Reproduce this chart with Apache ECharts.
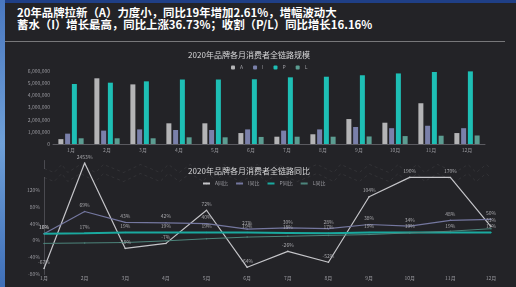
<!DOCTYPE html>
<html>
<head>
<meta charset="utf-8">
<script src="https://cdn.jsdelivr.net/npm/echarts@6.0.0/dist/echarts.min.js"></script>
<style>
  html, body { margin: 0; padding: 0; background: #232327; }
  #page { position: relative; width: 516px; height: 287px; overflow: hidden; background: #232327; }
  #strip { position: absolute; left: 0; top: 0; width: 5px; height: 287px; background: linear-gradient(#4a78c0, #6fa0d8, #3f6fb8); }
  #topbar { position: absolute; left: 5px; top: 0; width: 511px; height: 3px; background: #1f3f86; }
  #head { position: absolute; left: 17px; top: 6px; color: #fff; font: bold 11.4px "Noto Sans CJK SC", sans-serif; line-height: 12px; white-space: nowrap; }
  #rule { position: absolute; left: 5px; top: 41px; width: 500px; height: 1px; background: #77777a; }
  #chart { position: absolute; left: 0; top: 0; width: 516px; height: 287px; }
</style>
</head>
<body>
<div id="page">
  <div id="strip"></div>
  <div id="topbar"></div>
  <div id="head">20年品牌拉新（A）力度小，同比19年增加2.61%，增幅波动大<br>蓄水（I）增长最高，同比上涨36.73%；收割（P/L）同比增长16.16%</div>
  <div id="rule"></div>
  <div id="chart"></div>
</div>
<script>
// 月份
var months = ["1月", "2月", "3月", "4月", "5月", "6月", "7月", "8月", "9月", "10月", "11月", "12月"];
// 全链路规模 (人数)
var scaleA = [400000, 5400000, 4900000, 1700000, 1700000, 900000, 600000, 800000, 2050000, 1750000, 3350000, 900000];
var scaleI = [850000, 1100000, 1200000, 1150000, 1150000, 1200000, 1100000, 1200000, 1400000, 1300000, 1500000, 1300000];
var scaleP = [4930000, 5040000, 5150000, 5300000, 5300000, 5320000, 5480000, 5530000, 5650000, 5800000, 5920000, 5970000];
var scaleL = [470000, 470000, 470000, 550000, 550000, 580000, 600000, 600000, 620000, 650000, 680000, 700000];
// 全链路同比 (%)
var yoyA = [-67, 2453, -19, -7, 72, -64, -26, -52, 104, 190, 170, 33];
var yoyI = [16, 69, 43, 42, 40, 27, 30, 28, 38, 34, 48, 50];
var yoyP = [16, 17, 19, 19, 19, 19, 18, 17, 19, 19, 19, 19];
var yoyL = [-7, -6, -5, -1, 4, 8, 10, 12, 14, 18, 22, 28];

var font = '"Noto Sans CJK SC", sans-serif';
var colA = "#b4b4b6", colI = "#7a80aa", colP = "#1ebfb5", colL = "#5c9d92";

function barSeries(name, data, color) {
  return {
    name: name, type: "bar", xAxisIndex: 0, yAxisIndex: 0,
    data: data, barWidth: 5, barGap: "35%",
    itemStyle: { color: color }
  };
}
function lineSeries(name, data, color, width, showLabel) {
  return {
    name: name, type: "line", xAxisIndex: 1, yAxisIndex: 1,
    data: data, showSymbol: true, symbol: "circle", symbolSize: 1.5,
    lineStyle: { color: color, width: width }, itemStyle: { color: color },
    label: { show: showLabel, position: "top", distance: 3, fontSize: 5, color: "#a8a8ac", fontFamily: font, formatter: "{c}%" }
  };
}

var chart = echarts.init(document.getElementById("chart"));
var option = {
  backgroundColor: "transparent",
  animation: false,
  textStyle: { fontFamily: font },
  title: [
    { text: "2020年品牌各月消费者全链路规模", left: 244, top: 46, textAlign: "center",
      textStyle: { color: "#d8d8da", fontSize: 8, fontWeight: "normal", fontFamily: font } },
    { text: "2020年品牌各月消费者全链路同比", left: 244, top: 162, textAlign: "center",
      textStyle: { color: "#d8d8da", fontSize: 8, fontWeight: "normal", fontFamily: font } }
  ],
  legend: [
    { data: ["A", "I", "P", "L"], left: 226, top: 60, itemWidth: 4, itemHeight: 4, itemGap: 10, icon: "roundRect",
      textStyle: { color: "#9a9aa0", fontSize: 5 } },
    { data: ["A同比", "I同比", "P同比", "L同比"], left: 197, top: 176, itemWidth: 7, itemHeight: 2, itemGap: 7,
      textStyle: { color: "#9a9aa0", fontSize: 5 } }
  ],
  grid: [
    { left: 53, right: 31, top: 71, height: 73 },
    { left: 44, right: 25, top: 160, bottom: 13 }
  ],
  xAxis: [
    { type: "category", gridIndex: 0, data: months,
      axisLine: { lineStyle: { color: "#5a5a60" } }, axisTick: { show: false },
      axisLabel: { color: "#9a9aa0", fontSize: 5, margin: 4 } },
    { type: "category", gridIndex: 1, data: months, boundaryGap: false,
      axisLine: { show: false }, axisTick: { show: false },
      axisLabel: { color: "#9a9aa0", fontSize: 5, margin: 2 } }
  ],
  yAxis: [
    { type: "value", gridIndex: 0, min: 0, max: 6000000, interval: 1000000,
      splitLine: { show: false }, axisLine: { show: false }, axisTick: { show: false },
      axisLabel: { color: "#9a9aa0", fontSize: 5, margin: 3,
        formatter: function (v) { return v.toLocaleString("en-US"); } } },
    { type: "value", gridIndex: 1, min: -80, max: 2460, interval: 40,
      breaks: [{ start: 150, end: 2440, gap: "8%" }],
      breakArea: { itemStyle: { color: "rgba(0,0,0,0)", borderColor: "rgba(255,255,255,0.07)", borderWidth: 1 } },
      splitLine: { show: false }, axisTick: { show: false },
      axisLine: { show: true, lineStyle: { color: "#4a4a50" } },
      axisLabel: { color: "#9a9aa0", fontSize: 5, margin: 4,
        formatter: function (v) { return (v <= 120 || v === 2400) ? v + "%" : ""; } } }
  ],
  series: [
    barSeries("A", scaleA, colA),
    barSeries("I", scaleI, colI),
    barSeries("P", scaleP, colP),
    barSeries("L", scaleL, colL),
    lineSeries("A同比", yoyA, "#c4c4c8", 1.2, true),
    lineSeries("I同比", yoyI, "#74779f", 1.2, true),
    lineSeries("P同比", yoyP, "#1aa99f", 2, true),
    lineSeries("L同比", yoyL, "#4d857c", 1, false)
  ]
};
chart.setOption(option);
</script>
</body>
</html>
